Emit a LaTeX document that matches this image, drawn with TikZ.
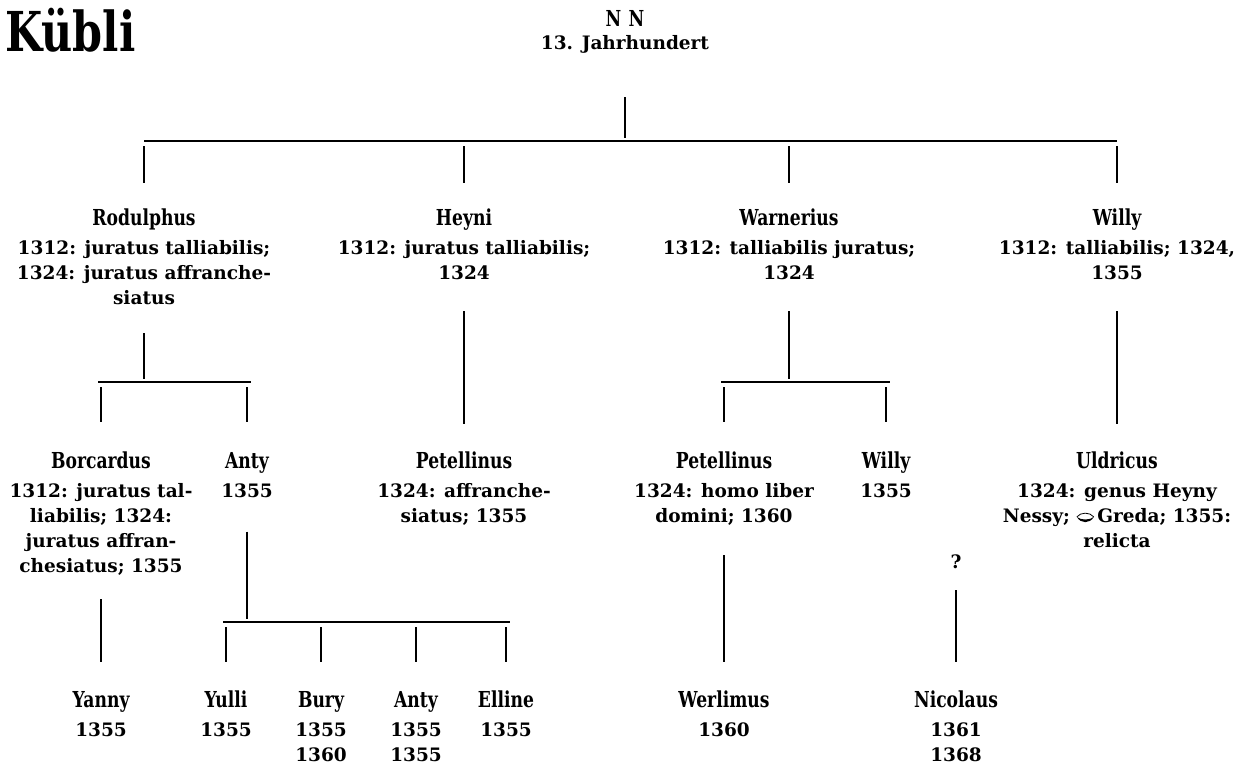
\documentclass[tikz,border=0pt]{standalone}
\usepackage{fontspec}
\setmainfont{DejaVu Serif}
\newfontfamily\namefont{DejaVu Serif}[FakeStretch=0.78]
\newfontfamily\titlefont{DejaVu Serif}[FakeStretch=0.78]
\newcommand{\nm}[1]{{\namefont\fontsize{22}{25}\selectfont\bfseries #1}}
% marriage sign
\newcommand{\conj}{\tikz[baseline=0pt,x=1pt,y=1pt]{%
  \draw[line width=0.8pt] (0,6) .. controls (4,11) and (13,11) .. (17,6);
  \fill (0,6) .. controls (4,-1) and (13,-1) .. (17,6) .. controls (13,2.5) and (4,2.5) .. (0,6) -- cycle;}}

\begin{document}
\begin{tikzpicture}[x=1pt,y=1pt,yscale=-1,
	person/.style={anchor=north,align=center,inner sep=0pt,font=\fontsize{18.5}{25}\selectfont\bfseries},
	link/.style={line width=1.2pt},
	bar/.style={line width=1.5pt}]
	\useasboundingbox (0,0) rectangle (1239,765);
	
	% Title
	\node [anchor=base west,inner sep=0pt,font=\titlefont\fontsize{55}{60}\selectfont\bfseries] (title) at (5,52) {Kübli};
	
	% Text Node
	\node [person] (nn) at (625,10) {\nm{N\,\,N}\\[-2pt] 13. Jahrhundert};
	% Text Node
	\node [person] (rod) at (144,209) {\nm{Rodulphus}\\[4pt] 1312: juratus talliabilis;\\ 1324: juratus affranche-\\ siatus};
	% Text Node
	\node [person] (hey) at (464,209) {\nm{Heyni}\\[4pt] 1312: juratus talliabilis;\\ 1324};
	% Text Node
	\node [person] (war) at (789,209) {\nm{Warnerius}\\[4pt] 1312: talliabilis juratus;\\ 1324};
	% Text Node
	\node [person] (wil) at (1117,209) {\nm{Willy}\\[4pt] 1312: talliabilis; 1324,\\ 1355};
	
	% Text Node
	\node [person] (bor) at (101,452) {\nm{Borcardus}\\[4pt] 1312: juratus tal-\\ liabilis; 1324:\\ juratus affran-\\ chesiatus; 1355};
	% Text Node
	\node [person] (anty) at (247,452) {\nm{Anty}\\[4pt] 1355};
	% Text Node
	\node [person] (pet1) at (464,452) {\nm{Petellinus}\\[4pt] 1324: affranche-\\ siatus; 1355};
	% Text Node
	\node [person] (pet2) at (724,452) {\nm{Petellinus}\\[4pt] 1324: homo liber\\ domini; 1360};
	% Text Node
	\node [person] (wil2) at (886,452) {\nm{Willy}\\[4pt] 1355};
	% Text Node
	\node [person] (uld) at (1117,452) {\nm{Uldricus}\\[4pt] 1324: genus Heyny\\ Nessy; \conj\,Greda; 1355:\\ relicta};
	% Text Node
	\node [person] (q) at (956,555) {?};
	
	% Text Node
	\node [person] (yan) at (101,691) {\nm{Yanny}\\[4pt] 1355};
	% Text Node
	\node [person] (yul) at (226,691) {\nm{Yulli}\\[4pt] 1355};
	% Text Node
	\node [person] (bur) at (321,691) {\nm{Bury}\\[4pt] 1355\\ 1360};
	% Text Node
	\node [person] (ant2) at (416,691) {\nm{Anty}\\[4pt] 1355\\ 1355};
	% Text Node
	\node [person] (ell) at (506,691) {\nm{Elline}\\[4pt] 1355};
	% Text Node
	\node [person] (wer) at (724,691) {\nm{Werlimus}\\[4pt] 1360};
	% Text Node
	\node [person] (nic) at (956,691) {\nm{Nicolaus}\\[4pt] 1361\\ 1368};
	
	% bars
	\coordinate (bar1) at (625,141);
	\coordinate (bar2) at (145,382);
	\coordinate (bar3) at (788,382);
	\coordinate (bar4) at (247,622);
	
	%Straight Lines
	\draw [link,shorten >=3pt] ([yshift=44pt]nn.south) -- (nn |- bar1);
	\draw [bar] (rod |- bar1) -- (wil |- bar1);
	\foreach \c in {rod,hey,war,wil}
		\draw [link,shorten <=5pt] (\c |- bar1) -- ([yshift=-26pt]\c.north);
	
	%Straight Lines
	\draw [link,shorten >=3pt] ([yshift=28pt]rod.south) -- (rod |- bar2);
	\draw [bar,shorten <=-3pt,shorten >=-4pt] (bor |- bar2) -- (anty |- bar2);
	\foreach \c in {bor,anty}
		\draw [link,shorten <=5pt] (\c |- bar2) -- ([yshift=-30pt]\c.north);
	
	%Straight Lines
	\draw [link] ([yshift=31pt]hey.south) -- ([yshift=-28pt]pet1.north);
	
	%Straight Lines
	\draw [link,shorten >=3pt] ([yshift=31pt]war.south) -- (war |- bar3);
	\draw [bar,shorten <=-3pt,shorten >=-4pt] (pet2 |- bar3) -- (wil2 |- bar3);
	\foreach \c in {pet2,wil2}
		\draw [link,shorten <=5pt] (\c |- bar3) -- ([yshift=-30pt]\c.north);
	
	%Straight Lines
	\draw [link] ([yshift=31pt]wil.south) -- ([yshift=-28pt]uld.north);
	
	%Straight Lines
	\draw [link] ([yshift=23pt]bor.south) -- ([yshift=-29pt]yan.north);
	\draw [link,shorten >=3pt] ([yshift=34pt]anty.south) -- (anty |- bar4);
	\draw [bar,shorten <=-3pt,shorten >=-4pt] (yul |- bar4) -- (ell |- bar4);
	\foreach \c in {yul,bur,ant2,ell}
		\draw [link,shorten <=5pt] (\c |- bar4) -- ([yshift=-29pt]\c.north);
	
	%Straight Lines
	\draw [link] ([yshift=29pt]pet2.south) -- ([yshift=-29pt]wer.north);
	\draw [link] ([yshift=21pt]q.south) -- ([yshift=-29pt]nic.north);
	
\end{tikzpicture}
\end{document}
